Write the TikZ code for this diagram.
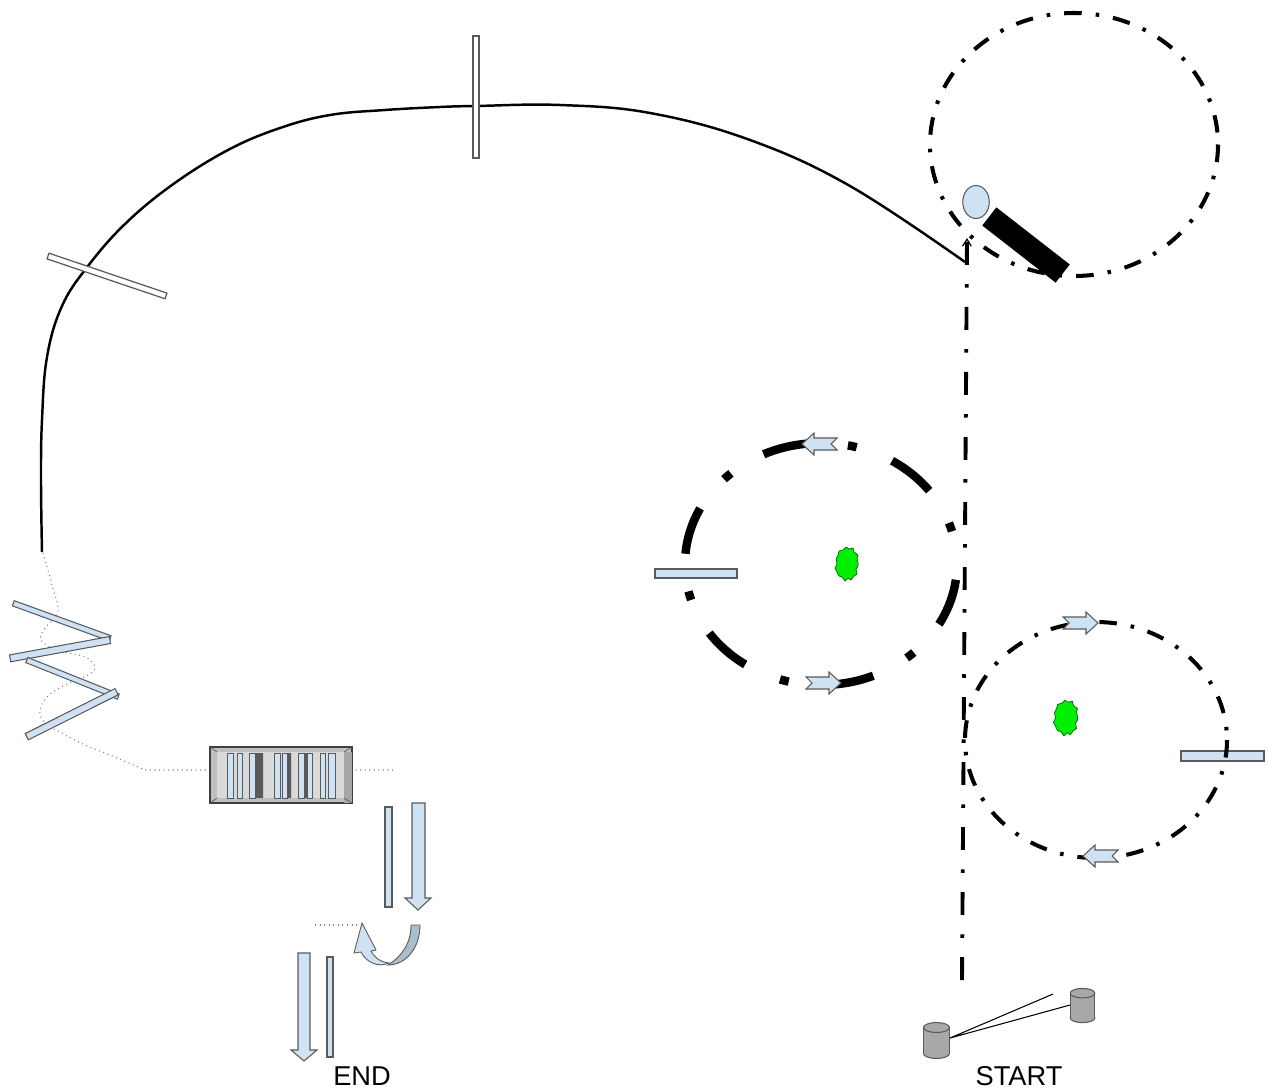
\documentclass[tikz,border=0pt]{standalone}
\usepackage{fontspec}
\setmainfont{Liberation Sans}
\usetikzlibrary{arrows.meta, shapes.geometric}

\definecolor{iceblue}{HTML}{CFE2F3}
\definecolor{rimgray}{HTML}{5A5A5A}
\definecolor{leafgreen}{HTML}{00EE00}
\definecolor{ribbonback}{HTML}{A9BDCC}
\definecolor{canfill}{HTML}{A8A8A8}

\tikzset{
  plate/.style={rectangle, draw=rimgray, fill=iceblue, line width=0.6pt, inner sep=0pt},
  window/.style={rectangle, draw=rimgray, fill=white, line width=0.7pt, inner sep=0pt},
  loop/.style={line width=2.3pt, dash pattern=on 10pt off 8pt on 2pt off 8pt},
  ringthick/.style={line width=4.8pt, dash pattern=on 27.3pt off 21.6pt on 5.1pt off 21.6pt,
    dash phase=66.6pt},
  beam/.style={line width=2.2pt, dash pattern=on 13pt off 11pt on 2pt off 11pt},
  trace/.style={gray, line width=0.6pt, dotted},
  tag/.style={font=\fontsize{15.5}{18}\selectfont, inner sep=0pt},
  notch/.pic={
    \filldraw[fill=iceblue, draw=rimgray, line width=0.6pt]
      (-17,-6) -- (6,-6) -- (6,-11) -- (18,0) -- (6,11) -- (6,6) -- (-17,6) -- (-11,0) -- cycle;
  },
  blob/.pic={
    \filldraw[fill=leafgreen, draw=green!40!black, line width=0.4pt]
      (11,-1) -- (10,-6) -- (11,-9) -- (7,-12) -- (6,-16) -- (2,-15) -- (-1,-17) -- (-4,-14)
      -- (-8,-13) -- (-9,-9) -- (-11,-5) -- (-10,0) -- (-12,4) -- (-10,8) -- (-8,12) -- (-5,13)
      -- (-2,17) -- (1,14) -- (4,16) -- (7,12) -- (10,10) -- (9,5) -- (11,2) -- cycle;
  },
  can/.pic={
    \filldraw[fill=canfill, draw=rimgray, line width=0.6pt] (0,13) ellipse [x radius=13, y radius=5];
    \fill[canfill] (-13,-13) rectangle (13,13);
    \draw[rimgray, line width=0.6pt] (-13,-13) -- (-13,13) (13,-13) -- (13,13);
    \filldraw[fill=canfill, draw=rimgray, line width=0.6pt] (0,-13) ellipse [x radius=13, y radius=5];
  }
}

\begin{document}
\begin{tikzpicture}[x=0.2mm, y=-0.2mm]
    \useasboundingbox (0,0) rectangle (1268,1091);

    % fibre loop
    \draw[line width=1.4pt] plot[smooth, tension=0.65] coordinates {(42,552) (41,480) (42,420)
        (47,357) (62,306) (88,266) (125,224) (172,185) (228,150) (280,128) (330,115) (385,110)
        (440,107) (476,106) (560,105) (650,113) (750,140) (850,186) (965,262)};
    \node[window, minimum width=1.2mm, minimum height=24.4mm] (winTop) at (476,97) {};
    \node[window, minimum width=24.9mm, minimum height=1.2mm, rotate=-18.7] (winLeft) at (107,276) {};

    % zigzag and grating
    \draw[trace] plot[smooth, tension=0.6] coordinates {(43,553) (52,585) (58,612) (45,628) (41,640)
        (57,650) (85,657) (95,667) (88,675) (67,684) (48,696) (40,710) (44,722) (58,731) (83,744)
        (117,758) (145,770)} -- (395,770);
    \node[plate, minimum width=20.6mm, minimum height=1.1mm, rotate=-19.9] (mirA) at (61.7,620.8) {};
    \node[plate, minimum width=20.3mm, minimum height=1.4mm, rotate=10.4] (mirB) at (60,649.2) {};
    \node[plate, minimum width=19.7mm, minimum height=1.1mm, rotate=-21.8] (mirC) at (72.5,678.3) {};
    \node[plate, minimum width=20.1mm, minimum height=1.4mm, rotate=26.6] (mirD) at (71.7,714.2) {};

    \node[draw=rimgray!70!black, fill=gray!50, line width=0.7pt, minimum width=28.4mm,
        minimum height=11.2mm, inner sep=0pt] (grating) at (281,775) {};
    \fill[gray!30] (217,752) rectangle (344,798);
    \fill[gray!70] (344,752) rectangle (352,803);
    \draw[rimgray, line width=0.4pt] (210,747) -- (217,752) (352,747) -- (344,752)
        (210,803) -- (217,798) (352,803) -- (344,798);
    \fill[gray!70!black] (255,753) rectangle (263,798) (287,753) rectangle (291,798)
        (304,753) rectangle (307,798);
    \foreach \a/\b in {227/233, 237/242, 249/255, 274/280, 282/287, 298/304, 307/312, 320/325, 328/335}
        \filldraw[fill=iceblue, draw=rimgray, line width=0.4pt] (\a,753) rectangle (\b,798);

    % output arrows
    \node[plate, minimum width=1.4mm, minimum height=20mm] (slitA) at (388.5,857) {};
    \filldraw[fill=iceblue, draw=rimgray, line width=0.6pt] (412,803) -- (425,803) -- (425,898)
        -- (431,898) -- (418,910) -- (405,898) -- (412,898) -- cycle;
    \draw[trace] (315,925) -- (360,925);
    \filldraw[fill=ribbonback, draw=rimgray, line width=0.5pt] (411,925) -- (420,925)
        .. controls (420,948) and (406,965) .. (388,965)
        .. controls (401,957) and (411,944) .. (411,925) -- cycle;
    \filldraw[fill=iceblue, draw=rimgray, line width=0.5pt] (389,963)
        .. controls (380,962) and (374,957) .. (371,951) -- (376,950) -- (362,923) -- (354,953)
        -- (361,952) .. controls (366,962) and (378,968) .. (389,963) -- cycle;
    \filldraw[fill=iceblue, draw=rimgray, line width=0.6pt] (298,953) -- (310,953) -- (310,1050)
        -- (317,1050) -- (304,1061) -- (291,1050) -- (298,1050) -- cycle;
    \node[plate, minimum width=1.2mm, minimum height=20mm] (slitB) at (330,1007) {};
    \node[tag] (endLabel) at (362,1076) {END};

    % source ring
    \draw[loop] (1074,144.5) ellipse [x radius=144, y radius=131.5];
    \node[ellipse, draw=rimgray, fill=iceblue, line width=0.6pt, minimum width=5.3mm,
        minimum height=6.6mm, inner sep=0pt] (bulb) at (976,202) {};
    \node[fill=black, minimum width=18.6mm, minimum height=4.6mm, inner sep=0pt, rotate=-37.9] (lamp)
        at (1026,245) {};

    % middle ring
    \node[plate, minimum width=16.4mm, minimum height=1.8mm] (gateA) at (696,573.5) {};
    \draw[ringthick] (821,564) ellipse [x radius=136, y radius=121];
    \pic at (820,444) [rotate=180] {notch};
    \pic at (823,683) {notch};
    \pic at (847,564) {blob};

    % lower ring
    \node[plate, minimum width=16.6mm, minimum height=2mm] (gateB) at (1222.5,756) {};
    \draw[loop] (1096,740) ellipse [x radius=131, y radius=118];
    \pic at (1080,623) {notch};
    \pic at (1101,856) [rotate=180] {notch};
    \pic at (1066,718) [scale=1.05] {blob};

    % start
    \coordinate (beamFoot) at (962,980);
    \coordinate (beamTop) at (967,238);
    \draw[beam, -{Straight Barb[length=4pt, width=5pt, line width=0.7pt]}] (beamFoot) -- (beamTop);
    \pic at (936.5,1040.5) {can};
    \pic at (1082.5,1005.5) [scale=0.95] {can};
    \coordinate (srcL) at (950,1038);
    \coordinate (srcR) at (1070,1005);
    \coordinate (srcRay) at (1053,994);
    \draw[line width=0.6pt] (srcL) -- (srcR) (srcL) -- (srcRay);
    \node[tag] (startLabel) at (1019,1076) {START};
\end{tikzpicture}
\end{document}
